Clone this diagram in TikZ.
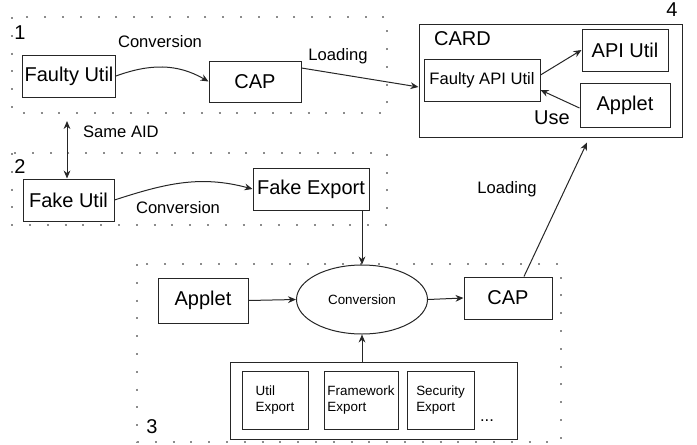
\documentclass[tikz,border=0pt]{standalone}
\usepackage{fontspec}
\setmainfont{Liberation Sans}
\usetikzlibrary{arrows.meta,positioning,calc,shapes.geometric}
\tikzset{
  >={Stealth[length=4pt,width=3.4pt]},
  box/.style={draw=black!85,line width=0.5pt,inner sep=1pt,align=center,font=\fontsize{10}{12}\selectfont},
  sbox/.style={box,font=\fontsize{6.7}{8}\selectfont,align=left},
  lab/.style={font=\fontsize{8.3}{10}\selectfont},
  num/.style={font=\fontsize{10}{12}\selectfont},
  grp/.style={draw=black!45,line width=1pt,dash pattern=on 1pt off 7.9pt},
  arr/.style={->,draw=black!85,line width=0.5pt},
}
\begin{document}
\begin{tikzpicture}[x=0.5pt,y=-0.5pt]
\useasboundingbox (0,0) rectangle (697,445);
% dotted groups
\draw[grp] (12,17) rectangle (387,113);
\draw[grp] (12,153) rectangle (387,225);
\draw[grp] (137,264) rectangle (561,442);
\node[num] at (20,33) {1};
\node[num] at (20,167) {2};
\node[num] at (152,427) {3};
\node[num] at (672,10) {4};
% group 1
\node[box,minimum width=46pt,minimum height=21pt] (fu) at (69,76) {Faulty Util};
\node[box,minimum width=46pt,minimum height=20.5pt] (cap) at (255,81.5) {CAP};
\node[lab] at (160,42) {Conversion};
\draw[arr] (fu.east) to[out=20,in=150] (cap.west);
% card
\node[box,minimum width=131.5pt,minimum height=56.5pt] (card) at (550.5,80.5) {};
\node[num,anchor=west] at (427,39) {CARD};
\node[box,font=\fontsize{8.3}{10}\selectfont,minimum width=58pt,minimum height=21pt] (fapi) at (482,80) {Faulty API Util};
\node[box,minimum width=43pt,minimum height=21pt] (api) at (625,50) {API Util};
\node[box,minimum width=45pt,minimum height=22pt] (capp) at (625,105) {Applet};
\node[num] at (552,118) {Use};
\draw[arr] ([yshift=2.5pt]fapi.east) -- (api.west);
\draw[arr] ([yshift=-1.5pt]capp.west) -- ([yshift=-5pt]fapi.east);
\draw[arr] ([yshift=6.75pt]cap.east) -- ([yshift=-3.25pt]card.west);
\node[lab] at (338,56) {Loading};
% group 2
\node[box,minimum width=45.5pt,minimum height=21pt] (fku) at (68.5,200) {Fake Util};
\node[box,minimum width=58pt,minimum height=21pt] (fke) at (311,189) {Fake Export};
\node[lab] at (178,208) {Conversion};
\draw[arr] (fku.east) to[out=18,in=165] (fke.west);
\coordinate (aid) at (67,121);
\draw[arr,<->] (aid) -- (aid |- fku.north);
\node[lab,anchor=west] at (76,132) {Same AID};
% group 3
\node[box,minimum width=45pt,minimum height=22.5pt] (app) at (203,300.5) {Applet};
\node[box,ellipse,inner sep=0pt,font=\fontsize{6.7}{8}\selectfont,minimum width=65.5pt,minimum height=34.5pt] (conv) at (362,299.5) {Conversion};
\node[box,minimum width=44pt,minimum height=21pt] (cap2) at (508,298) {CAP};
\node[box,minimum width=143.5pt,minimum height=38.5pt] (exps) at (373.5,400.5) {};
\node[sbox,minimum width=33pt,minimum height=29pt] (ue) at (275,400) {Util\\Export};
\node[sbox,minimum width=37pt,minimum height=29pt] (fwe) at (361,400) {Framework\\Export};
\node[sbox,minimum width=33.5pt,minimum height=29pt] (se) at (440.5,400) {Security\\Export};
\node[lab] at (487,421) {...};
\draw[arr] (app.east) -- (conv.west);
\draw[arr] (conv.east) -- (cap2.west);
\draw[arr] (conv.south |- exps.north) -- (conv.south);
\draw[arr] (fke.south -| conv.north) -- (conv.north);
\draw[arr] ([xshift=8pt]cap2.north) -- ([xshift=18.25pt,yshift=-2.5pt]card.south);
\node[lab] at (507,189) {Loading};
\end{tikzpicture}
\end{document}
